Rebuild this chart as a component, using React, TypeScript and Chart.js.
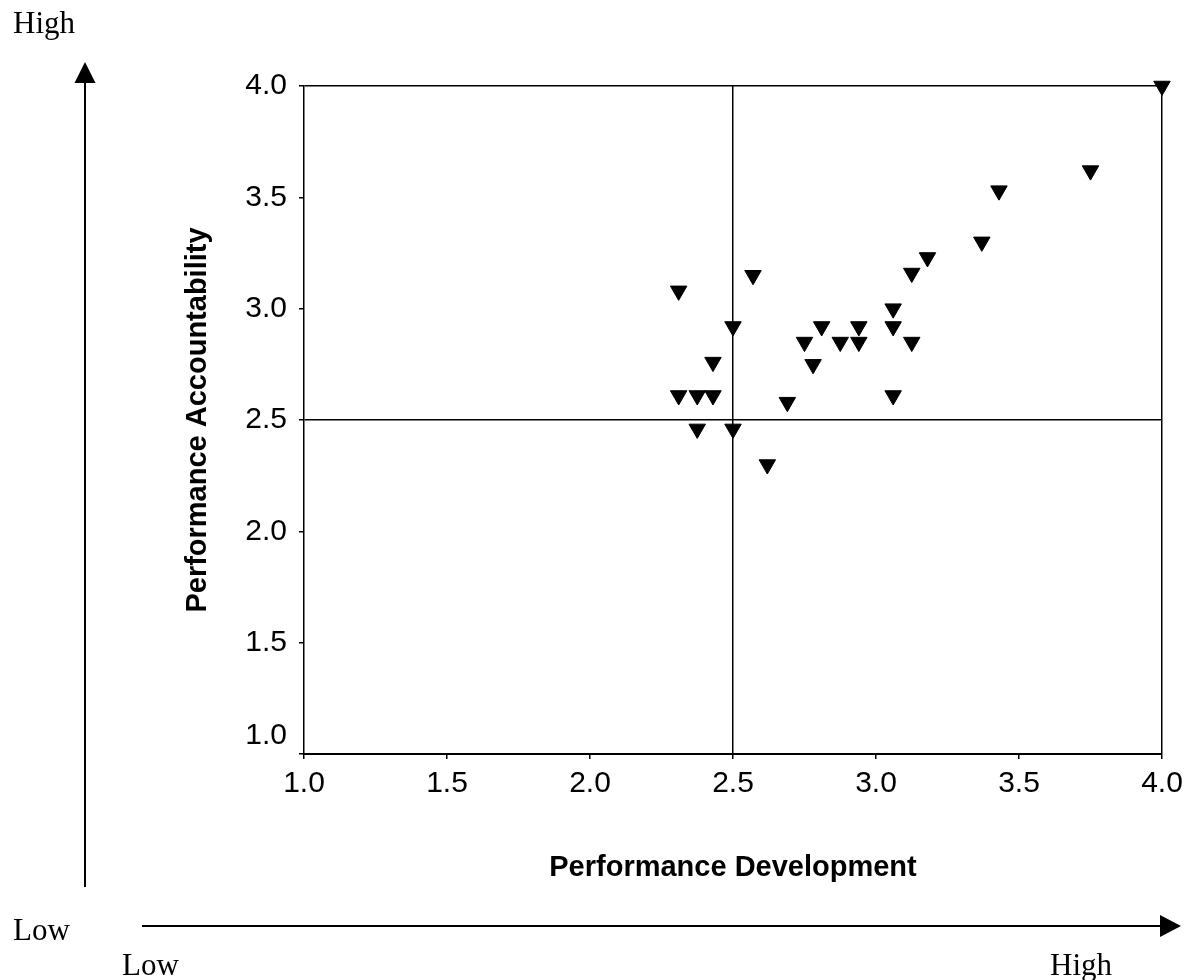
import React, { useEffect, useRef } from 'react';
import { Chart, registerables } from 'chart.js';

Chart.register(...registerables);

// Performance Development (x) for each respondent
const devScores = [
  2.57, 2.31, 2.5, 2.43, 2.31, 2.375, 2.43, 2.375, 2.5, 2.62, 2.69, 2.75, 2.81, 2.78,
  2.875, 2.94, 2.94, 3.06, 3.06, 3.125, 3.06, 3.125, 3.18, 3.37, 3.43, 3.75, 4.0,
];
// Performance Accountability (y) for each respondent
const accScores = [
  3.15, 3.08, 2.92, 2.76, 2.61, 2.61, 2.61, 2.46, 2.46, 2.3, 2.58, 2.85, 2.92, 2.75,
  2.85, 2.85, 2.92, 3.0, 2.92, 2.85, 2.61, 3.16, 3.23, 3.3, 3.53, 3.62, 4.0,
];
const tickValues = [1.0, 1.5, 2.0, 2.5, 3.0, 3.5, 4.0];
const quadrantLines = [2.5, 4.0];
const xAxisTitle = 'Performance Development';
const yAxisTitle = 'Performance Accountability';
const lowLabel = 'Low';
const highLabel = 'High';

const SANS = '"Liberation Sans", Arial, sans-serif';
const SERIF = '"Liberation Serif", "Times New Roman", serif';

const arrowsPlugin = {
  id: 'lowHighArrows',
  afterDraw(chart: any) {
    const ctx = chart.ctx as CanvasRenderingContext2D;
    ctx.save();
    ctx.strokeStyle = '#000';
    ctx.fillStyle = '#000';
    ctx.lineWidth = 2;
    // vertical arrow
    ctx.beginPath();
    ctx.moveTo(85, 887);
    ctx.lineTo(85, 80);
    ctx.stroke();
    ctx.beginPath();
    ctx.moveTo(85, 62);
    ctx.lineTo(95.5, 83);
    ctx.lineTo(74.5, 83);
    ctx.closePath();
    ctx.fill();
    // horizontal arrow
    ctx.beginPath();
    ctx.moveTo(142, 926);
    ctx.lineTo(1162, 926);
    ctx.stroke();
    ctx.beginPath();
    ctx.moveTo(1181, 926);
    ctx.lineTo(1160, 915);
    ctx.lineTo(1160, 937);
    ctx.closePath();
    ctx.fill();
    // labels
    ctx.font = `31px ${SERIF}`;
    ctx.textBaseline = 'alphabetic';
    ctx.textAlign = 'left';
    ctx.fillText(highLabel, 13, 33);
    ctx.fillText(lowLabel, 13, 940);
    ctx.fillText(lowLabel, 122, 975);
    ctx.fillText(highLabel, 1050, 975);
    ctx.restore();
  },
};

export default function App() {
  const canvasRef = useRef<HTMLCanvasElement | null>(null);

  useEffect(() => {
    if (!canvasRef.current) return;
    const points = devScores.map((x, i) => ({ x, y: accScores[i] }));
    const gridColor = (c: any) =>
      c.tick && quadrantLines.includes(c.tick.value) ? '#000' : 'rgba(0,0,0,0)';
    const chart = new Chart(canvasRef.current, {
      type: 'scatter',
      data: {
        datasets: [
          {
            data: points,
            pointStyle: 'triangle',
            rotation: 180,
            pointRadius: 9.5,
            pointHoverRadius: 9.5,
            borderWidth: 1,
            backgroundColor: '#000',
            borderColor: '#000',
            clip: false,
          } as any,
        ],
      },
      options: {
        animation: false,
        responsive: false,
        events: [],
        layout: { padding: { left: 181, top: 86, right: 24, bottom: 94.6 } },
        plugins: {
          legend: { display: false },
          title: { display: false },
          tooltip: { enabled: false },
        },
        scales: {
          x: {
            type: 'linear',
            min: 1,
            max: 4,
            afterFit: (s: any) => {
              s.height = 131.4;
              s.paddingLeft = 0;
              s.paddingRight = 0;
            },
            afterBuildTicks: (s: any) => {
              s.ticks = tickValues.map((v) => ({ value: v }));
            },
            ticks: {
              color: '#000',
              font: { family: SANS, size: 30 },
              padding: 7,
              maxRotation: 0,
              callback: (v: any) => Number(v).toFixed(1),
            },
            grid: {
              color: gridColor,
              lineWidth: 1.5,
              drawTicks: true,
              tickLength: 5,
              tickColor: '#000',
              tickWidth: 1.5,
            },
            border: { display: true, color: '#000', width: 2 },
            title: {
              display: true,
              text: xAxisTitle,
              color: '#000',
              font: { family: SANS, size: 29, weight: 'bold' },
              padding: 0,
            },
          },
          y: {
            type: 'linear',
            min: 1,
            max: 4,
            afterFit: (s: any) => {
              s.width = 123;
              s.paddingTop = 0;
              s.paddingBottom = 0;
            },
            afterBuildTicks: (s: any) => {
              s.ticks = tickValues.map((v) => ({ value: v }));
            },
            ticks: {
              color: '#000',
              font: { family: SANS, size: 30 },
              padding: 12,
              callback: (v: any) => (Number(v) === 1 ? [Number(v).toFixed(1), ''] : Number(v).toFixed(1)),
            },
            grid: {
              color: gridColor,
              lineWidth: 1.5,
              drawTicks: true,
              tickLength: 5,
              tickColor: '#000',
              tickWidth: 1.5,
            },
            border: { display: true, color: '#000', width: 1.5 },
            title: {
              display: true,
              text: yAxisTitle,
              color: '#000',
              font: { family: SANS, size: 29, weight: 'bold' },
              padding: 0,
            },
          },
        },
      },
      plugins: [arrowsPlugin],
    } as any);
    return () => chart.destroy();
  }, []);

  return (
    <div style={{ position: 'absolute', left: 0, top: 0, width: 1186, height: 980, background: '#fff' }}>
      <canvas ref={canvasRef} width={1186} height={980} style={{ display: 'block' }} />
    </div>
  );
}
